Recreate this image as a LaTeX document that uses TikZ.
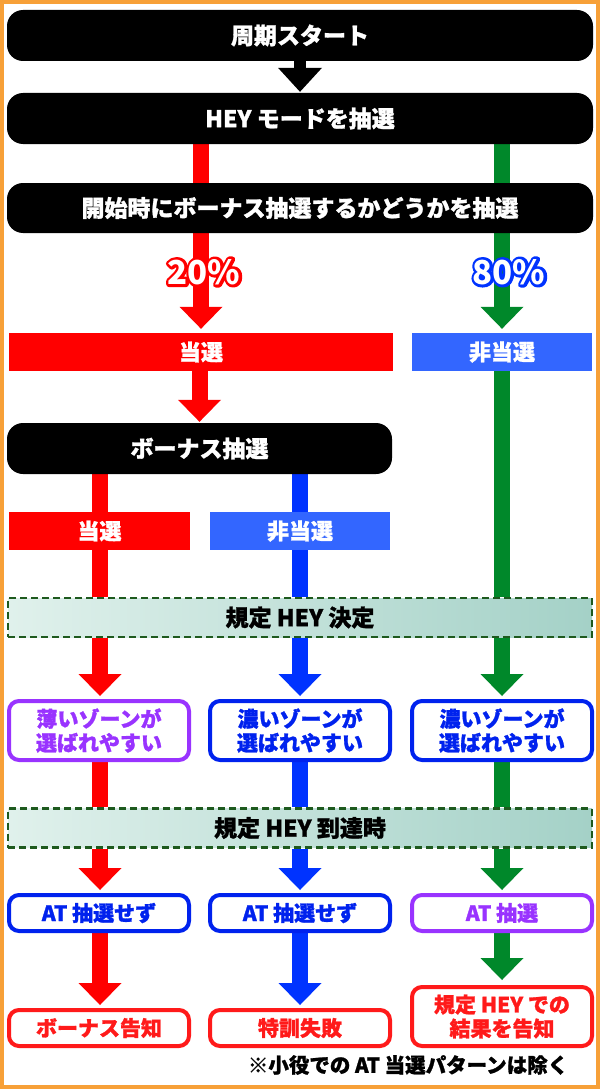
\documentclass[tikz,border=0pt]{standalone}
\usepackage{fontspec}
\setmainfont{Noto Sans CJK JP}[BoldFont={Noto Sans CJK JP Black}, BoldFeatures={FakeBold=1.2}]
\newfontfamily\pctfont{Noto Sans CJK JP}[BoldFont={Noto Sans CJK JP Black}]
\usetikzlibrary{arrows.meta}
\definecolor{cRed}{HTML}{FF0000}
\definecolor{cBlue}{HTML}{0033FF}
\definecolor{cBar}{HTML}{3366FF}
\definecolor{cGreen}{HTML}{00882A}
\definecolor{cPurple}{HTML}{9933FF}
\definecolor{cBox}{HTML}{0022EE}
\definecolor{cRbox}{HTML}{FF1A1A}
\definecolor{cOrange}{HTML}{F7A038}
\definecolor{kdL}{HTML}{E0F1EC}
\definecolor{kdR}{HTML}{A4D1C7}
\definecolor{kdB}{HTML}{1E5A1E}
\pgfdeclarelayer{bg}
\pgfsetlayers{bg,main}
\newcommand\strokedtext[1]{\special{pdf:literal direct 1 j 5.6 w 2 Tr}#1\special{pdf:literal direct 0 Tr}}
\begin{document}
\begin{tikzpicture}[x=1pt,y=-1pt,
  blk/.style={fill=black, rounded corners=16pt, minimum width=586pt, minimum height=51pt, inner sep=0pt, text=white, font=\fontsize{23}{23}\selectfont\bfseries},
  bar/.style={fill=#1, inner sep=0pt, minimum height=38pt, text=white, font=\fontsize{22}{22}\selectfont\bfseries},
  kd/.style={draw=kdB, dash pattern=on 7pt off 4pt, line width=2.5pt, left color=kdL, right color=kdR, minimum width=584pt, minimum height=39pt, inner sep=0pt, font=\fontsize{23}{23}\selectfont\bfseries},
  rb/.style={draw=#1, text=#1, line width=4pt, rounded corners=10pt, fill=white, minimum width=180pt, inner sep=0pt, align=center, font=\fontsize{21}{24}\selectfont\bfseries},
  shaft/.style={line width=16pt, draw=#1},
  arr/.style={line width=16pt, draw=#1, -{Triangle[length=22pt,width=43pt,line width=0pt]}, shorten >=3pt},
  pct/.style={font=\pctfont\fontsize{33}{33}\selectfont\bfseries, inner sep=0pt},
]
\useasboundingbox (0,0) rectangle (600,1089);
\begin{pgfonlayer}{bg}
\fill[white] (0,0) rectangle (600,1089);
\end{pgfonlayer}
% columns
\coordinate (cA) at (201,0);
\coordinate (cL) at (100,0);
\coordinate (cM) at (300,0);
\coordinate (cR) at (502,0);
% nodes
\node[blk] (b1) at (300,35.5) {周期スタート};
\node[blk] (b2) at (300,118.5) {HEY モードを抽選};
\node[blk, minimum height=50pt] (b3) at (300,208) {開始時にボーナス抽選するかどうかを抽選};
\node[bar=cRed, minimum width=384pt] (t1) at (201,352) {当選};
\node[bar=cBar, minimum width=180pt] (t2) at (502,352) {非当選};
\node[blk, minimum width=385pt] (b4) at (199.5,448.5) {ボーナス抽選};
\node[bar=cRed, minimum width=181pt] (t3) at (99.5,531) {当選};
\node[bar=cBar, minimum width=180pt] (t4) at (300,531) {非当選};
\node[kd] (k1) at (300,617.5) {規定 HEY 決定};
\node[rb=cPurple, minimum height=59pt] (r1) at (99,730.5) {薄いゾーンが\\選ばれやすい};
\node[rb=cBox, minimum height=59pt] (r2) at (300,730.5) {濃いゾーンが\\選ばれやすい};
\node[rb=cBox, minimum height=59pt] (r3) at (502,730.5) {濃いゾーンが\\選ばれやすい};
\node[kd] (k2) at (300,828) {規定 HEY 到達時};
\node[rb=cBox, minimum height=36pt] (a1) at (99,913) {AT 抽選せず};
\node[rb=cBox, minimum height=36pt] (a2) at (300,913) {AT 抽選せず};
\node[rb=cPurple, minimum height=36pt] (a3) at (502,913) {AT 抽選};
\node[rb=cRbox, minimum height=36pt] (f1) at (99,1028) {ボーナス告知};
\node[rb=cRbox, minimum height=36pt] (f2) at (300,1028) {特訓失敗};
\node[rb=cRbox, minimum height=59pt] (f3) at (502,1016.5) {規定 HEY での\\結果を告知};
\node[font=\fontsize{20.5}{20.5}\selectfont\bfseries, inner sep=0pt] (note) at (408,1065) {※小役での AT 当選パターンは除く};
% connectors
\begin{pgfonlayer}{bg}
\draw[line width=12pt, -{Triangle[length=24pt,width=44pt,line width=0pt]}, shorten >=1pt] (b1.south) -- (b2.north);
\draw[shaft=cRed] (b2.south -| cA) -- (b3.north -| cA);
\draw[shaft=cGreen] (b2.south -| cR) -- (b3.north -| cR);
\draw[arr=cRed, shorten >=4pt] (b3.south -| cA) -- (t1.north -| cA);
\draw[arr=cGreen, shorten >=4pt] (b3.south -| cR) -- (t2.north -| cR);
\draw[arr=cRed, shorten >=1pt] (t1.south -| b4.north) -- (b4.north);
\draw[shaft=cRed] (b4.south -| cL) -- (t3.north -| cL);
\draw[shaft=cBlue] (b4.south -| cM) -- (t4.north -| cM);
\draw[shaft=cRed] (t3.south -| cL) -- (k1.north -| cL);
\draw[shaft=cBlue] (t4.south -| cM) -- (k1.north -| cM);
\draw[shaft=cGreen] (t2.south -| cR) -- (k1.north -| cR);
\draw[arr=cRed] (k1.south -| cL) -- (r1.north -| cL);
\draw[arr=cBlue] (k1.south -| cM) -- (r2.north -| cM);
\draw[arr=cGreen] (k1.south -| cR) -- (r3.north -| cR);
\draw[shaft=cRed] (r1.south -| cL) -- (k2.north -| cL);
\draw[shaft=cBlue] (r2.south -| cM) -- (k2.north -| cM);
\draw[shaft=cGreen] (r3.south -| cR) -- (k2.north -| cR);
\draw[arr=cRed] (k2.south -| cL) -- (a1.north -| cL);
\draw[arr=cBlue] (k2.south -| cM) -- (a2.north -| cM);
\draw[arr=cGreen] (k2.south -| cR) -- (a3.north -| cR);
\draw[arr=cRed] (a1.south -| cL) -- (f1.north -| cL);
\draw[arr=cBlue] (a2.south -| cM) -- (f2.north -| cM);
\draw[arr=cGreen, shorten >=5pt] (a3.south -| cR) -- (f3.north -| cR);
\end{pgfonlayer}
% percentage labels (outlined)
\node[pct, text=cRed] (o20) at (204,272) {\strokedtext{20\%}};
\node[pct, text=white] (l20) at (o20.center) {20\%};
\node[pct, text=cBlue] (o80) at (509,272) {\strokedtext{80\%}};
\node[pct, text=white] (l80) at (o80.center) {80\%};
% frame
\draw[cOrange, line width=4pt] (2,2) rectangle (598,1087);
\end{tikzpicture}
\end{document}
